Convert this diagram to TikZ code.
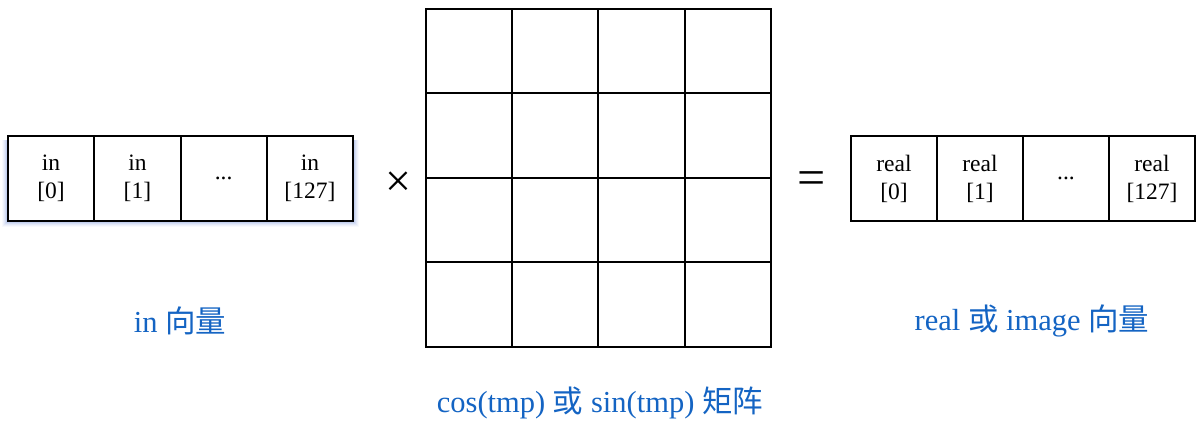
\documentclass[tikz,border=0pt]{standalone}
\usepackage{fontspec}
\setmainfont{Liberation Serif}
\newfontfamily\cjk{Noto Sans CJK SC}
\definecolor{lblblue}{RGB}{20,100,195}
\definecolor{shadowblue}{RGB}{110,140,215}
\begin{document}
\begin{tikzpicture}[x=1pt,y=-1pt,
  cellbox/.style={draw=black,line width=1.8pt,minimum width=86pt,minimum height=85pt,inner sep=0pt,align=center,font=\fontsize{23.5}{28}\selectfont},
  mcell/.style={draw=black,line width=1.8pt,minimum width=86.25pt,minimum height=84.5pt,inner sep=0pt},
  lbl/.style={text=lblblue,font=\fontsize{30.5}{34}\selectfont,inner sep=0pt},
  op/.style={inner sep=0pt}]
\useasboundingbox (0,0) rectangle (1196,421);
% shadow under left vector
\foreach \o/\a in {6/0.05,5/0.07,4/0.09,3/0.12,2/0.16,1/0.2}{
  \fill[shadowblue,opacity=\a] (8-\o,140) rectangle (353+\o,221+\o);
}
% left vector
\node[cellbox,fill=white] (i0) at (51.1,178.5) {in\\{[}0{]}};
\node[cellbox,fill=white] (i1) at (137.4,178.5) {in\\{[}1{]}};
\node[cellbox,fill=white] (i2) at (223.6,178.5) {...};
\node[cellbox,fill=white] (i3) at (309.9,178.5) {in\\{[}127{]}};
% right vector
\node[cellbox] (r0) at (894,178.5) {real\\{[}0{]}};
\node[cellbox] (r1) at (980,178.5) {real\\{[}1{]}};
\node[cellbox] (r2) at (1066,178.5) {...};
\node[cellbox] (r3) at (1152,178.5) {real\\{[}127{]}};
% matrix
\foreach \r in {0,1,2,3}{
  \foreach \c in {0,1,2,3}{
    \node[mcell] (m\r\c) at (469+86.25*\c,51+84.5*\r) {};
  }
}
% operators
\node[op,font=\fontsize{46}{48}\selectfont] (times) at (398,184) {×};
\node[op,font=\fontsize{50}{52}\selectfont] (eq) at (812,183) {=};
% labels
\node[lbl] (lin) at (180,321) {in {\cjk 向量}};
\node[lbl] (lreal) at (1032,321) {real {\cjk 或} image {\cjk 向量}};
\node[lbl] (lmat) at (600,403) {cos(tmp) {\cjk 或} sin(tmp) {\cjk 矩阵}};
\end{tikzpicture}
\end{document}
